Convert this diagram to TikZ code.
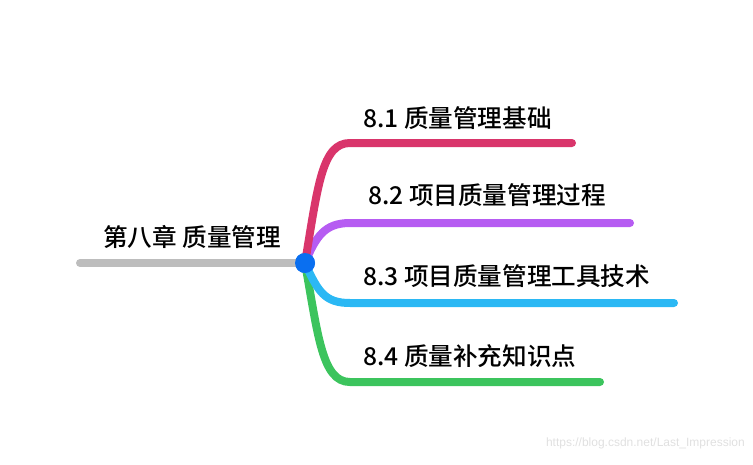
\documentclass[tikz,border=0pt]{standalone}
\usepackage{fontspec}
\setmainfont{Noto Sans CJK SC Medium}
\newfontfamily\wmfont{Liberation Sans}
\definecolor{cpink}{HTML}{D9356B}
\definecolor{cpurple}{HTML}{B65CF2}
\definecolor{ccyan}{HTML}{2BB8F4}
\definecolor{cgreen}{HTML}{3CC45D}
\definecolor{cgray}{HTML}{BDBDBD}
\definecolor{cblue}{HTML}{0A6FF0}
\begin{document}
\begin{tikzpicture}[x=1pt,y=-1pt,
  branch/.style={line width=8pt,line cap=round},
  lbl/.style={font=\fontsize{24.6}{28}\selectfont,anchor=west,inner sep=0pt,text=black},
  ttl/.style={font=\fontsize{24.6}{28}\selectfont,inner sep=0pt,text=black}]
\useasboundingbox (0,0) rectangle (753,464);
\coordinate (root) at (80,263);
\node[circle,fill=cblue,minimum size=20pt,inner sep=0pt] (c) at (305,263) {};
\draw[branch,cgray] (root) -- (c.center);
% branch ends
\coordinate (b1s) at (350,143); \coordinate (b1e) at (572,143);
\coordinate (b2s) at (350,223); \coordinate (b2e) at (630,223);
\coordinate (b3s) at (350,303); \coordinate (b3e) at (674,303);
\coordinate (b4s) at (350,382); \coordinate (b4e) at (600,382);
\draw[branch,cgreen] (c.center) .. controls (318,335) and (322,382) .. (b4s) -- (b4e);
\draw[branch,ccyan] (c.center) .. controls (318,292) and (325,303) .. (b3s) -- (b3e);
\draw[branch,cpurple] (c.center) .. controls (316,236) and (325,223) .. (b2s) -- (b2e);
\draw[branch,cpink] (c.center) .. controls (318,185) and (322,143) .. (b1s) -- (b1e);
\node[circle,fill=cblue,minimum size=20pt,inner sep=0pt] at (c) {};
\node[ttl] (t0) at (192,237) {第八章 质量管理};
\node[lbl] (t1) at (363,118) {8.1 质量管理基础};
\node[lbl] (t2) at (368,195) {8.2 项目质量管理过程};
\node[lbl] (t3) at (363,276) {8.3 项目质量管理工具技术};
\node[lbl] (t4) at (363,356) {8.4 质量补充知识点};
\node[font=\wmfont\fontsize{12}{14}\selectfont,text=black!12,anchor=east,inner sep=0pt] (wm) at (745,443) {https://blog.csdn.net/Last\_Impression};
\end{tikzpicture}
\end{document}
